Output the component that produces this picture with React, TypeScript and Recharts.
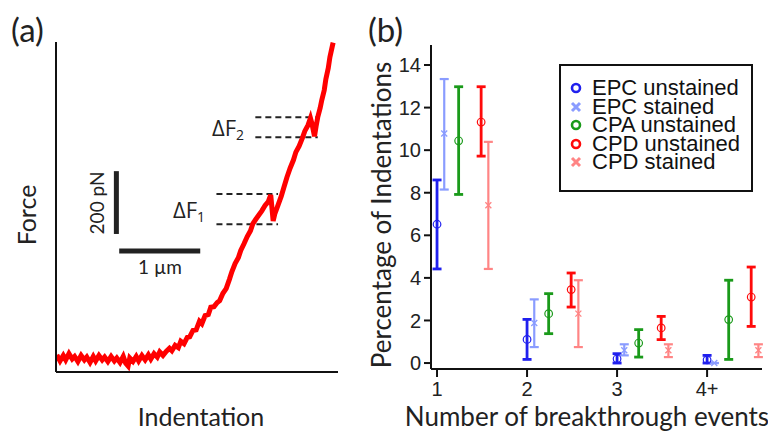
import React from 'react';
import {
  LineChart,
  Line,
  XAxis,
  YAxis,
  ReferenceLine,
  ScatterChart,
  Scatter,
  ErrorBar,
} from 'recharts';

// ---- panel (a): force vs indentation trace (µm, pN) ----
const indentation = [
  0.01, 0.05, 0.09, 0.12, 0.16, 0.2, 0.23, 0.27, 0.31, 0.35, 0.38, 0.42, 0.46, 0.49, 0.53, 0.57, 0.6, 0.64,
  0.68, 0.72, 0.75, 0.79, 0.83, 0.86, 0.89, 0.91, 0.95, 0.99, 1.02, 1.06, 1.1, 1.14, 1.17, 1.21, 1.25, 1.28,
  1.32, 1.36, 1.4, 1.43, 1.47, 1.51, 1.54, 1.58, 1.62, 1.65, 1.69, 1.73, 1.77, 1.8, 1.84, 1.88, 1.91, 1.95,
  1.99, 2.02, 2.06, 2.1, 2.14, 2.17, 2.21, 2.25, 2.28, 2.32, 2.36, 2.4, 2.43, 2.47, 2.51, 2.54, 2.58, 2.62,
  2.65, 2.68, 2.7, 2.74, 2.78, 2.81, 2.85, 2.89, 2.93, 2.96, 3.0, 3.04, 3.07, 3.11, 3.14, 3.16, 3.19, 3.21,
  3.23, 3.26, 3.28, 3.31, 3.33, 3.36, 3.38, 3.41, 3.42,
];
const force = [
  -9, -28, -11, -25, -5, -22, -14, -30, -11, -25, -16, -33, -14, -28, -11, -25, -16, -30,
  -14, -28, -19, -33, -14, -35, -44, -19, -30, -14, -28, -11, -25, -9, -22, -5, -16, 0,
  -11, 2, 12, 4, 21, 14, 34, 26, 46, 48, 68, 70, 97, 89, 115, 118, 141, 143,
  156, 162, 185, 200, 229, 253, 279, 297, 320, 341, 364, 382, 405, 420, 434, 445, 462, 474,
  495, 413, 435, 463, 491, 517, 551, 580, 605, 630, 649, 674, 696, 715, 737, 718, 680, 712,
  740, 769, 794, 825, 860, 895, 929, 964, 975,
];
const forceTicks = [0, 200, 400, 600, 800];
const indentTicks = [1.07, 3.48];
const stepOne = [403, 498]; // ΔF1 levels, pN
const stepTwo = [677, 740]; // ΔF2 levels, pN

// ---- panel (b): breakthrough events ----
const events = ['1', '2', '3', '4+'];
const seriesNames = ['EPC unstained', 'EPC stained', 'CPA unstained', 'CPD unstained', 'CPD stained'];
const seriesColors = ['#2020ee', '#8a9cff', '#1a9a1a', '#ff0a0a', '#ff8585'];
const seriesOffsets = [0, 0.08, 0.24, 0.49, 0.57];
const seriesStained = [false, true, false, false, true];

const epcUnstainedMean = [6.52, 1.11, 0.2, 0.15];
const epcUnstainedLow = [4.42, 0.17, 0.0, 0.0];
const epcUnstainedHigh = [8.6, 2.05, 0.44, 0.36];

const epcStainedMean = [10.78, 1.88, 0.6, 0.0];
const epcStainedLow = [8.15, 0.75, 0.36, 0.0];
const epcStainedHigh = [13.34, 2.99, 0.88, 0.0];

const cpaUnstainedMean = [10.44, 2.32, 0.94, 2.04];
const cpaUnstainedLow = [7.92, 1.38, 0.28, 0.17];
const cpaUnstainedHigh = [12.98, 3.26, 1.57, 3.89];

const cpdUnstainedMean = [11.32, 3.45, 1.65, 3.1];
const cpdUnstainedLow = [9.72, 2.63, 1.1, 1.72];
const cpdUnstainedHigh = [12.98, 4.23, 2.19, 4.51];

const cpdStainedMean = [7.41, 2.32, 0.6, 0.6];
const cpdStainedLow = [4.42, 0.75, 0.28, 0.28];
const cpdStainedHigh = [10.39, 3.89, 0.88, 0.88];

const pctTicks = [0, 2, 4, 6, 8, 10, 12, 14];

const traceData = indentation.map((x, i) => ({ x, f: force[i] }));

const means = [epcUnstainedMean, epcStainedMean, cpaUnstainedMean, cpdUnstainedMean, cpdStainedMean];
const lows = [epcUnstainedLow, epcStainedLow, cpaUnstainedLow, cpdUnstainedLow, cpdStainedLow];
const highs = [epcUnstainedHigh, epcStainedHigh, cpaUnstainedHigh, cpdUnstainedHigh, cpdStainedHigh];

const seriesData = means.map((m, s) =>
  m.map((v, i) => ({
    x: i + 1 + seriesOffsets[s],
    y: v,
    err: [v - lows[s][i], highs[s][i] - v],
  }))
);

const axisStyle = { stroke: '#111', strokeWidth: 2 };
const titleFont = 'Lato, "Open Sans", sans-serif';
const tickFont = '"Liberation Sans", Arial, sans-serif';

const circleShape = (color: string) => (p: any) =>
  <circle cx={p.cx} cy={p.cy} r={3.8} fill="none" stroke={color} strokeWidth={1.2} />;

const crossShape = (color: string) => (p: any) => (
  <path
    d={`M${p.cx - 3},${p.cy - 3}L${p.cx + 3},${p.cy + 3}M${p.cx - 3},${p.cy + 3}L${p.cx + 3},${p.cy - 3}`}
    stroke={color}
    strokeWidth={1.3}
  />
);

function LegendMarker({ color, stained }: { color: string; stained: boolean }) {
  return (
    <svg width={31} height={18} style={{ flex: 'none' }}>
      {stained ? (
        <path d="M11,5L19,13M11,13L19,5" stroke={color} strokeWidth={3} />
      ) : (
        <circle cx={15} cy={9} r={4} fill="none" stroke={color} strokeWidth={2.6} />
      )}
    </svg>
  );
}

export default function App() {
  return (
    <div style={{ position: 'absolute', left: 0, top: 0, width: 768, height: 433, background: '#fff', overflow: 'hidden' }}>
      <div style={{ position: 'absolute', left: 0, top: 0 }}>
        <LineChart width={345} height={433} data={traceData} margin={{ top: 42, right: 7, bottom: 30, left: 0 }}>
          <XAxis
            dataKey="x"
            type="number"
            domain={[0, 3.48]}
            ticks={indentTicks}
            allowDataOverflow
            tick={false}
            tickSize={6}
            height={31}
            axisLine={axisStyle}
            tickLine={axisStyle}
          />
          <YAxis
            type="number"
            domain={[-63, 977]}
            ticks={forceTicks}
            allowDataOverflow
            tick={false}
            tickSize={5}
            width={56}
            axisLine={axisStyle}
            tickLine={axisStyle}
          />
          {stepOne.map((f) => (
            <ReferenceLine key={f} segment={[{ x: 1.98, y: f }, { x: 2.74, y: f }]} stroke="#222" strokeWidth={2} strokeDasharray="6 4" />
          ))}
          {stepTwo.map((f) => (
            <ReferenceLine key={f} segment={[{ x: 2.46, y: f }, { x: 3.23, y: f }]} stroke="#222" strokeWidth={2} strokeDasharray="6 4" />
          ))}
          <ReferenceLine segment={[{ x: 0.745, y: 372 }, { x: 0.745, y: 570 }]} stroke="#222" strokeWidth={5} />
          <ReferenceLine segment={[{ x: 0.78, y: 318 }, { x: 1.78, y: 318 }]} stroke="#222" strokeWidth={5} />
          <Line type="linear" dataKey="f" stroke="#ff0000" strokeWidth={5} strokeLinejoin="miter" dot={false} isAnimationActive={false} />
          <text x={11} y={29} fontSize={33} fontFamily={titleFont} fill="#222" dominantBaseline="central">(a)</text>
          <text x={26} y={215} fontSize={25} fontFamily={titleFont} fill="#222" textAnchor="middle" dominantBaseline="central" transform="rotate(-90, 26, 215)">Force</text>
          <text x={201} y={426} fontSize={25} fontFamily={titleFont} fill="#222" textAnchor="middle">Indentation</text>
          <text x={96} y={203} fontSize={19} fontFamily={titleFont} fill="#222" textAnchor="middle" dominantBaseline="central" transform="rotate(-90, 96, 203)">200 pN</text>
          <text x={160} y={274} fontSize={19} fontFamily={titleFont} fill="#222" textAnchor="middle">1 µm</text>
          <text x={173} y={218} fontSize={22} fontFamily={'"Open Sans", sans-serif'} fill="#222">
            ΔF<tspan dy={4} fontSize={14}>1</tspan>
          </text>
          <text x={212} y={136} fontSize={22} fontFamily={'"Open Sans", sans-serif'} fill="#222">
            ΔF<tspan dy={4} fontSize={14}>2</tspan>
          </text>
        </LineChart>
      </div>
      <div style={{ position: 'absolute', left: 340, top: 0 }}>
        <ScatterChart width={428} height={433} margin={{ top: 45, right: 6, bottom: 30, left: 0 }}>
          <XAxis
            dataKey="x"
            type="number"
            domain={[0.933, 4.61]}
            ticks={[1, 2, 3, 4]}
            tickFormatter={(v: number) => events[v - 1]}
            allowDataOverflow
            tickSize={8}
            tickMargin={5}
            height={34}
            axisLine={axisStyle}
            tickLine={axisStyle}
            tick={{ fontSize: 20, fontFamily: tickFont, fill: '#222' }}
          />
          <YAxis
            dataKey="y"
            type="number"
            domain={[-0.28, 14.94]}
            ticks={pctTicks}
            allowDataOverflow
            tickSize={7}
            tickMargin={3}
            width={91}
            axisLine={axisStyle}
            tickLine={axisStyle}
            tick={{ fontSize: 20, fontFamily: tickFont, fill: '#222' }}
          />
          {seriesData.map((d, s) => (
            <Scatter
              key={seriesNames[s]}
              name={seriesNames[s]}
              data={d}
              isAnimationActive={false}
              shape={seriesStained[s] ? crossShape(seriesColors[s]) : circleShape(seriesColors[s])}
            >
              <ErrorBar dataKey="err" direction="y" width={4.5} stroke={seriesColors[s]} strokeWidth={seriesStained[s] ? 2.2 : 2.8} />
            </Scatter>
          ))}
          <text x={28} y={29} fontSize={33} fontFamily={titleFont} fill="#222" dominantBaseline="central">(b)</text>
          <text x={41} y={215} fontSize={26} fontFamily={titleFont} fill="#222" textAnchor="middle" dominantBaseline="central" transform="rotate(-90, 41, 215)">Percentage of Indentations</text>
          <text x={247} y={426} fontSize={26} fontFamily={titleFont} fill="#222" textAnchor="middle">Number of breakthrough events</text>
        </ScatterChart>
      </div>
      <div
        style={{
          position: 'absolute',
          left: 559,
          top: 64,
          width: 194,
          height: 128,
          boxSizing: 'border-box',
          border: '2px solid #111',
          paddingTop: 13,
          fontFamily: tickFont,
          fontSize: 22,
          color: '#111',
        }}
      >
        {seriesNames.map((n, s) => (
          <div key={n} style={{ display: 'flex', alignItems: 'center', height: 18.5, lineHeight: '18.5px', whiteSpace: 'nowrap' }}>
            <LegendMarker color={seriesColors[s]} stained={seriesStained[s]} />
            <span>{n}</span>
          </div>
        ))}
      </div>
    </div>
  );
}
